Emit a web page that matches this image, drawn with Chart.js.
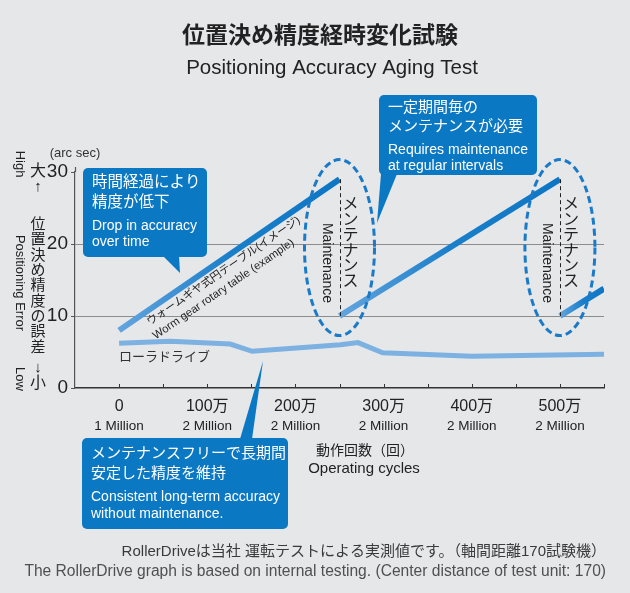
<!DOCTYPE html>
<html>
<head>
<meta charset="utf-8">
<script src="https://cdn.jsdelivr.net/npm/chart.js@4"></script>
<style>
  html, body { margin: 0; padding: 0; background: #e6e7e9; }
  #wrap { position: relative; width: 630px; height: 593px; }
</style>
</head>
<body>
<div id="wrap"><canvas id="agingChart"></canvas></div>
<script>
// operating cycles are in 万 (10,000) units, error in arc sec
const cycleTicks = [0, 100, 200, 300, 400, 500];
const cycleSubLabels = ["1 Million", "2 Million", "2 Million", "2 Million", "2 Million", "2 Million"];
const errorTicks = [0, 10, 20, 30];

// worm gear table: three runs, reset by maintenance
const wormCycles = [[0, 250], [250, 500], [500, 550]];
const wormError = [[8, 29], [10, 29], [10, 13.8]];
const maintenanceAt = [250, 500];

// RollerDrive measured
const rollerCycles = [0, 58, 126, 151, 205, 251, 271, 299, 400, 550];
const rollerError = [6.2, 6.5, 6.1, 5.1, 5.6, 6.0, 6.3, 4.9, 4.4, 4.7];

const SANS = "'Liberation Sans', 'Noto Sans CJK JP', sans-serif";
const BLUE = "#0b78c3";

function wormGradient(ctx) {
  const chart = ctx.chart;
  if (!chart.chartArea) return "#0f78c6";
  const pts = chart.data.datasets[ctx.datasetIndex].data;
  const x0 = chart.scales.x.getPixelForValue(pts[0].x);
  const x1 = chart.scales.x.getPixelForValue(pts[pts.length - 1].x);
  const g = chart.ctx.createLinearGradient(x0, 0, x1, 0);
  g.addColorStop(0, "#63a4de");
  g.addColorStop(0.5, "#1a7fca");
  g.addColorStop(1, "#0d76c4");
  return g;
}

const datasets = [{
  label: "RollerDrive",
  data: rollerCycles.map((c, i) => ({ x: c, y: rollerError[i] })),
  borderColor: "#7db1e2", borderWidth: 5, pointRadius: 0, tension: 0,
}].concat(wormCycles.map((cs, i) => ({
  label: "Worm gear " + i,
  data: cs.map((c, j) => ({ x: c, y: wormError[i][j] })),
  borderColor: wormGradient, borderWidth: 6, pointRadius: 0, tension: 0, borderCapStyle: "butt",
})));

function text(ctx, str, x, y, font, color, align) {
  ctx.font = font;
  ctx.fillStyle = color || "#222";
  ctx.textAlign = align || "left";
  ctx.textBaseline = "middle";
  ctx.fillText(str, x, y);
}

function rotText(ctx, str, x, y, angle, font, color, align) {
  ctx.save();
  ctx.translate(x, y);
  ctx.rotate(angle);
  text(ctx, str, 0, 0, font, color, align || "center");
  ctx.restore();
}

function vertText(ctx, str, x, y0, step, font, color) {
  [...str].forEach((ch, i) => text(ctx, ch, x, y0 + i * step, font, color, "center"));
}

function callout(ctx, box, pointer, lines) {
  ctx.fillStyle = BLUE;
  ctx.beginPath();
  ctx.roundRect(box[0], box[1], box[2], box[3], 5);
  ctx.fill();
  ctx.beginPath();
  ctx.moveTo(pointer[0][0], pointer[0][1]);
  pointer.slice(1).forEach(p => ctx.lineTo(p[0], p[1]));
  ctx.closePath();
  ctx.fill();
  lines.forEach(l => text(ctx, l[0], box[0] + 9, l[1], l[2], "#fff"));
}

const overlay = {
  id: "overlay",
  afterDatasetsDraw(chart) {
    const { ctx, scales: { x, y } } = chart;
    ctx.save();

    // y axis runs a little past the top tick
    ctx.strokeStyle = "#555";
    ctx.lineWidth = 1.2;
    ctx.beginPath();
    ctx.moveTo(x.left + 0.5, y.top);
    ctx.lineTo(x.left + 0.5, y.top - 5);
    ctx.stroke();

    // inner ticks on the cycles axis
    ctx.strokeStyle = "#333";
    ctx.lineWidth = 1;
    x.ticks.forEach(t => {
      if (t.value <= x.min) return;
      const px = Math.round(x.getPixelForValue(t.value)) + 0.5;
      ctx.beginPath();
      ctx.moveTo(px, y.bottom);
      ctx.lineTo(px, y.bottom - 4);
      ctx.stroke();
    });

    // sub labels under tick labels
    cycleTicks.forEach((c, i) => text(ctx, cycleSubLabels[i], x.getPixelForValue(c), 426, "13.5px " + SANS, "#222", "center"));

    // maintenance markers
    maintenanceAt.forEach((m, i) => {
      const px = x.getPixelForValue(m);
      const top = y.getPixelForValue(wormError[i][1]);
      const bot = y.getPixelForValue(wormError[i + 1][0]);
      ctx.setLineDash([4, 3]);
      ctx.strokeStyle = "#222";
      ctx.lineWidth = 1;
      ctx.beginPath();
      ctx.moveTo(Math.round(px) + 0.5, top);
      ctx.lineTo(Math.round(px) + 0.5, bot);
      ctx.stroke();

      ctx.setLineDash([7, 4]);
      ctx.strokeStyle = "#1a7ac8";
      ctx.lineWidth = 3;
      ctx.beginPath();
      ctx.ellipse(px, (top + bot) / 2, 35, 88, 0, 0, Math.PI * 2);
      ctx.stroke();
      ctx.setLineDash([]);

      vertText(ctx, "メンテナンス", px + 11, 205, 15.4, "16px " + SANS, "#222");
      rotText(ctx, "Maintenance", px - 13, 263, Math.PI / 2, "14px " + SANS, "#222");
    });

    // worm gear line label along the first run
    const ang = Math.atan2(y.getPixelForValue(wormError[0][1]) - y.getPixelForValue(wormError[0][0]),
                           x.getPixelForValue(wormCycles[0][1]) - x.getPixelForValue(wormCycles[0][0]));
    rotText(ctx, "ウォームギヤ式円テーブル(イメージ)", 148, 323, ang, "11px " + SANS, "#222", "left");
    rotText(ctx, "Worm gear rotary table (example)", 154, 337, ang, "11.3px " + SANS, "#222", "left");

    text(ctx, "ローラドライブ", 119, 357, "13px " + SANS, "#333");

    // axis titles
    text(ctx, "(arc sec)", 75, 153, "13px " + SANS, "#333", "center");
    text(ctx, "大", 38, 172, "16px " + SANS, "#222", "center");
    text(ctx, "↑", 38, 187, "15px " + SANS, "#222", "center");
    vertText(ctx, "位置決め精度の誤差", 38, 225, 15.3, "15px " + SANS, "#222");
    text(ctx, "↓", 38, 368, "15px " + SANS, "#222", "center");
    text(ctx, "小", 38, 384, "16px " + SANS, "#222", "center");
    rotText(ctx, "High", 20, 164, Math.PI / 2, "13px " + SANS, "#222");
    rotText(ctx, "Positioning Error", 20, 283, Math.PI / 2, "13px " + SANS, "#222");
    rotText(ctx, "Low", 20, 379, Math.PI / 2, "13px " + SANS, "#222");

    text(ctx, "動作回数（回）", 365, 451, "14px " + SANS, "#222", "center");
    text(ctx, "Operating cycles", 364, 469, "15px " + SANS, "#222", "center");

    // titles
    text(ctx, "位置決め精度経時変化試験", 320, 37, "bold 23px " + SANS, "#222", "center");
    text(ctx, "Positioning Accuracy Aging Test", 332, 68, "20.5px " + SANS, "#222", "center");

    // callouts
    callout(ctx, [83, 168, 124, 89], [[163, 256], [179, 256], [180, 273]], [
      ["時間経過により", 183, "15.5px " + SANS], ["精度が低下", 203, "15.5px " + SANS],
      ["Drop in accuracy", 226, "14px " + SANS], ["over time", 242, "14px " + SANS]]);
    callout(ctx, [379, 95, 158, 80], [[381, 174], [397, 174], [377, 223]], [
      ["一定期間毎の", 108, "15px " + SANS], ["メンテナンスが必要", 127, "15px " + SANS],
      ["Requires maintenance", 150, "14px " + SANS], ["at regular intervals", 166, "14px " + SANS]]);
    callout(ctx, [82, 438, 206, 91], [[240, 439], [252, 439], [263, 361]], [
      ["メンテナンスフリーで長期間", 454, "15px " + SANS], ["安定した精度を維持", 474, "15px " + SANS],
      ["Consistent long-term accuracy", 497, "14px " + SANS], ["without maintenance.", 514, "14px " + SANS]]);

    // footnotes
    text(ctx, "RollerDriveは当社 運転テストによる実測値です。（軸間距離170試験機）", 606, 552, "15px " + SANS, "#3a3a3a", "right");
    text(ctx, "The RollerDrive graph is based on internal testing. (Center distance of test unit: 170)", 606, 572, "15.6px " + SANS, "#505050", "right");

    ctx.restore();
  },
};

new Chart(document.getElementById("agingChart"), {
  type: "line",
  data: { datasets },
  options: {
    responsive: true, maintainAspectRatio: false, animation: false,
    layout: { padding: { left: 0, right: 26, top: 172, bottom: 160 } },
    plugins: { legend: { display: false }, tooltip: { enabled: false } },
    scales: {
      x: {
        type: "linear", min: -50, max: 550,
        afterFit: s => { s.height = 45; },
        grid: { display: false, drawTicks: false },
        border: { display: true, color: "#333", width: 1.5 },
        ticks: {
          stepSize: 50, padding: 9, autoSkip: false, maxRotation: 0, color: "#222",
          font: { size: 16, family: SANS },
          callback: v => cycleTicks.includes(v) ? (v === 0 ? "0" : v + "万") : "",
        },
      },
      y: {
        min: errorTicks[0], max: errorTicks[errorTicks.length - 1],
        afterFit: s => { s.width = 75; },
        grid: {
          color: c => (c.tick && (c.tick.value === 10 || c.tick.value === 20)) ? "#8c8c8c" : "rgba(0,0,0,0)",
          tickColor: "#555", tickLength: 4, lineWidth: 1,
        },
        border: { color: "#555", width: 1.2 },
        ticks: {
          stepSize: 10, padding: 3, color: "#222", font: { size: 19, family: SANS },
          callback: v => errorTicks.includes(v) ? String(v) : "",
        },
      },
    },
  },
  plugins: [overlay],
});
</script>
</body>
</html>
